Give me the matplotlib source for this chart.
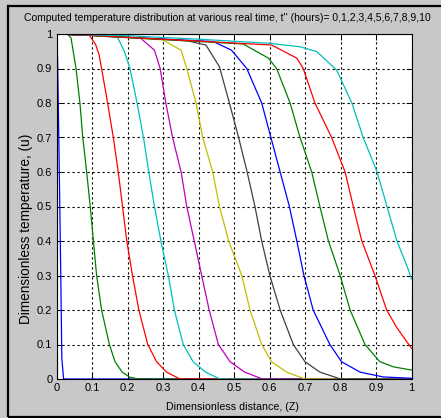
import numpy as np
import matplotlib.pyplot as plt
from matplotlib.patches import Rectangle

plt.rcParams['font.family'] = ['Liberation Sans', 'DejaVu Sans']

# curves, one per time t = 0..10 h
z0 = [0, 0.003, 0.005, 0.01, 0.012, 0.015, 0.02, 1]
u0 = [1, 0.93, 0.8, 0.45, 0.3, 0.06, 0, 0]

z1 = [0, 0.031, 0.041, 0.055, 0.066, 0.074, 0.085, 0.095, 0.104, 0.113, 0.127, 0.149, 0.165, 0.185, 0.207, 0.23, 1]
u1 = [1, 1, 0.988, 0.9, 0.8, 0.7, 0.6, 0.5, 0.4, 0.3, 0.2, 0.1, 0.05, 0.02, 0.005, 0, 0]

z2 = [0, 0.092, 0.11, 0.12, 0.127, 0.144, 0.16, 0.174, 0.186, 0.198, 0.214, 0.232, 0.257, 0.282, 0.31, 0.348, 1]
u2 = [1, 0.997, 0.97, 0.94, 0.9, 0.8, 0.7, 0.6, 0.5, 0.4, 0.3, 0.2, 0.1, 0.05, 0.02, 0, 0]

z3 = [0, 0.1, 0.172, 0.191, 0.207, 0.227, 0.245, 0.26, 0.276, 0.294, 0.315, 0.332, 0.357, 0.385, 0.42, 0.46, 1]
u3 = [1, 0.996, 0.99, 0.95, 0.9, 0.8, 0.7, 0.6, 0.5, 0.4, 0.3, 0.2, 0.1, 0.05, 0.02, 0, 0]

z4 = [0, 0.1, 0.238, 0.276, 0.292, 0.308, 0.327, 0.351, 0.367, 0.388, 0.409, 0.43, 0.456, 0.489, 0.53, 0.58, 1]
u4 = [1, 0.996, 0.987, 0.953, 0.9, 0.8, 0.7, 0.6, 0.5, 0.4, 0.3, 0.2, 0.1, 0.05, 0.02, 0, 0]

z5 = [0, 0.1, 0.299, 0.351, 0.367, 0.393, 0.412, 0.44, 0.459, 0.485, 0.522, 0.545, 0.578, 0.606, 0.648, 0.7, 1]
u5 = [1, 0.996, 0.983, 0.953, 0.9, 0.8, 0.7, 0.6, 0.5, 0.4, 0.3, 0.2, 0.1, 0.05, 0.02, 0, 0]

z6 = [0, 0.1, 0.37, 0.421, 0.459, 0.487, 0.513, 0.537, 0.559, 0.578, 0.601, 0.63, 0.667, 0.7, 0.742, 0.8, 1]
u6 = [1, 0.996, 0.98, 0.968, 0.905, 0.8, 0.7, 0.6, 0.5, 0.4, 0.3, 0.2, 0.1, 0.05, 0.02, 0, 0]

z7 = [0, 0.1, 0.442, 0.493, 0.536, 0.578, 0.604, 0.63, 0.656, 0.677, 0.697, 0.723, 0.77, 0.803, 0.855, 0.92, 1]
u7 = [1, 0.996, 0.978, 0.953, 0.9, 0.8, 0.7, 0.6, 0.5, 0.4, 0.3, 0.2, 0.1, 0.05, 0.02, 0.006, 0.002]

z8 = [0, 0.1, 0.526, 0.597, 0.62, 0.658, 0.686, 0.719, 0.742, 0.766, 0.799, 0.827, 0.869, 0.911, 0.95, 1]
u8 = [1, 0.996, 0.971, 0.93, 0.9, 0.8, 0.7, 0.6, 0.5, 0.4, 0.3, 0.2, 0.1, 0.05, 0.035, 0.026]

z9 = [0, 0.1, 0.606, 0.677, 0.695, 0.728, 0.775, 0.813, 0.836, 0.86, 0.897, 0.93, 0.958, 1]
u9 = [1, 0.996, 0.968, 0.93, 0.9, 0.8, 0.7, 0.6, 0.5, 0.4, 0.3, 0.2, 0.15, 0.089]

z10 = [0, 0.2, 0.4, 0.6, 0.686, 0.733, 0.789, 0.832, 0.864, 0.903, 0.931, 0.959, 0.99, 1]
u10 = [1, 0.995, 0.985, 0.973, 0.963, 0.949, 0.896, 0.8, 0.7, 0.6, 0.5, 0.4, 0.32, 0.29]

curves = [(z0, u0), (z1, u1), (z2, u2), (z3, u3), (z4, u4), (z5, u5),
          (z6, u6), (z7, u7), (z8, u8), (z9, u9), (z10, u10)]

# old matlab colour order
colors = ['#0000ff', '#008000', '#ff0000', '#00bfbf', '#bf00bf', '#bfbf00', '#404040']

ticks = np.arange(0, 1.01, 0.1)
ticklabels = ['0', '0.1', '0.2', '0.3', '0.4', '0.5', '0.6', '0.7', '0.8', '0.9', '1']

title = "Computed temperature distribution at various real time, t'' (hours)= 0,1,2,3,4,5,6,7,8,9,10"

fig = plt.figure(figsize=(4.41, 4.18), dpi=100, facecolor='#c8c8c8')
ax = fig.add_axes([56.5/441, 39/418, 355/441, 345/418])

for i, (z, u) in enumerate(curves):
    ax.plot(z, u, color=colors[i % 7], lw=0.9)

ax.set_xlim(0, 1)
ax.set_ylim(0, 1)
ax.set_xticks(ticks)
ax.set_yticks(ticks)
ax.set_xticklabels(ticklabels)
ax.set_yticklabels(ticklabels)
ax.tick_params(direction='in', length=4, width=0.7, top=True, right=True,
               labelsize=8, pad=3)
ax.grid(True, color='k', linestyle=(0, (2, 2.5)), lw=0.8)
for s in ax.spines.values():
    s.set_linewidth(0.8)

# texts placed in pixels (from top-left), sized to the length they take in the picture
t1 = fig.text(227/441, 1 - 18/418, title, ha='center', va='center', fontsize=9)
t2 = fig.text(232/441, 1 - 407/418, 'Dimensionless distance, (Z)', ha='center', va='center', fontsize=9)
t3 = fig.text(26/441, 1 - 229/418, 'Dimensionless temperature, (u)', ha='center', va='center',
              rotation=90, fontsize=9)

r = fig.canvas.get_renderer()
for t, target, vert in [(t1, 406, False), (t2, 131, False), (t3, 190, True)]:
    bb = t.get_window_extent(r)
    size = bb.height if vert else bb.width
    t.set_fontsize(9 * target / size)

fig.add_artist(Rectangle((7.5/441, 1.2/418), 1.0, (416.8-5.5)/418, transform=fig.transFigure,
                         fill=False, edgecolor='k', lw=1.6))

fig.savefig('out.png', dpi=100, facecolor=fig.get_facecolor())
